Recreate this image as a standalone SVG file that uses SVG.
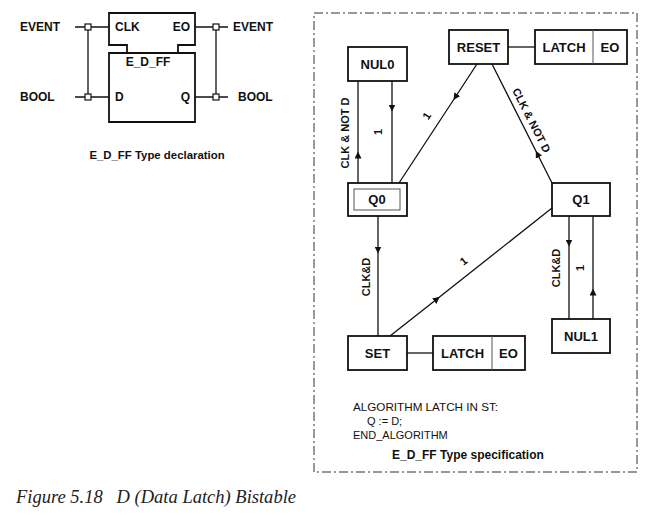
<svg xmlns="http://www.w3.org/2000/svg" width="655" height="515" viewBox="0 0 655 515">
<style>
.b{font-family:"Liberation Sans",Arial,sans-serif;font-weight:bold;fill:#111}
.t11{font-size:11px}
.t12{font-size:12px}
.t13{font-size:13px}
.r{font-family:"Liberation Sans",Arial,sans-serif;font-size:11px;fill:#111}
.box{fill:#fff;stroke:#111;stroke-width:1.8}
.thin{fill:none;stroke:#555;stroke-width:1}
.ln{fill:none;stroke:#111;stroke-width:1.3}
.arr{fill:none;stroke:#111;stroke-width:1.3;marker-mid:url(#ah)}
.sq{fill:#fff;stroke:#111;stroke-width:1.2}
</style>
<defs>
<marker id="ah" viewBox="0 0 10 10" refX="5" refY="5" markerWidth="7" markerHeight="7" markerUnits="userSpaceOnUse" orient="auto">
<path d="M0,0 L10,5 L0,10 Z" fill="#111"/>
</marker>
</defs>
<rect width="655" height="515" fill="#fff"/>

<!-- Type declaration -->
<g id="fb_decl">
<path class="box" d="M109,13 H195 V45 H178 V53 H195 V122 H109 V53 H127 V45 H109 Z"/>
<line class="ln" x1="127" y1="53" x2="178" y2="53" style="stroke-width:1.8"/>
<text class="b t12" x="115" y="31">CLK</text>
<text class="b t12" x="190" y="31" text-anchor="end">EO</text>
<text class="b t12" x="148" y="66" text-anchor="middle">E_D_FF</text>
<text class="b t12" x="115" y="101">D</text>
<text class="b t12" x="190" y="101" text-anchor="end">Q</text>
</g>
<g id="decl_io">
<line class="ln" x1="75" y1="27" x2="109" y2="27"/>
<line class="ln" x1="75" y1="97" x2="109" y2="97"/>
<line class="ln" x1="88" y1="27" x2="88" y2="97"/>
<line class="ln" x1="195" y1="27" x2="228" y2="27"/>
<line class="ln" x1="195" y1="97" x2="228" y2="97"/>
<line class="ln" x1="216" y1="27" x2="216" y2="97"/>
<rect class="sq" x="85" y="24" width="6" height="6"/>
<rect class="sq" x="85" y="94" width="6" height="6"/>
<rect class="sq" x="213" y="24" width="6" height="6"/>
<rect class="sq" x="213" y="94" width="6" height="6"/>
<text class="b t12" x="20" y="31">EVENT</text>
<text class="b t12" x="20" y="101">BOOL</text>
<text class="b t12" x="233" y="31">EVENT</text>
<text class="b t12" x="238" y="101">BOOL</text>
<text class="b" font-size="11.4" x="157" y="159" text-anchor="middle">E_D_FF Type declaration</text>
</g>

<!-- Type specification frame -->
<rect x="314" y="13" width="323" height="459" fill="none" stroke="#333" stroke-width="1" stroke-dasharray="9,3,2,3"/>

<!-- connectors -->
<g id="connectors">
<path class="arr" d="M392,81 L392,108 L392,183"/>
<path class="arr" d="M358,183 L358,155 L358,81"/>
<path class="arr" d="M477,64 L455.4,97 L399,183"/>
<path class="arr" d="M552,183 L537.4,154 L492,64"/>
<path class="arr" d="M378,216 L378,250 L378,336"/>
<path class="arr" d="M390,336 L437,299 L552,208"/>
<path class="arr" d="M569,216 L569,243 L569,319"/>
<path class="arr" d="M593,319 L593,292 L593,216"/>
<line class="ln" x1="508" y1="47" x2="535" y2="47"/>
<line class="ln" x1="407" y1="353" x2="433" y2="353"/>
<text class="b t11" transform="translate(349,133) rotate(-90)" text-anchor="middle">CLK &amp; NOT D</text>
<text class="b t11" transform="translate(382,132) rotate(-90)" text-anchor="middle">1</text>
<text class="b t11" transform="translate(430,118) rotate(-57)" text-anchor="middle">1</text>
<text class="b t11" transform="translate(528,122) rotate(63)" text-anchor="middle">CLK &amp; NOT D</text>
<text class="b t11" transform="translate(466,264) rotate(-38)" text-anchor="middle">1</text>
<text class="b t11" transform="translate(370,277) rotate(-90)" text-anchor="middle">CLK&amp;D</text>
<text class="b t11" transform="translate(560,268) rotate(-90)" text-anchor="middle">CLK&amp;D</text>
<text class="b t11" transform="translate(584,268) rotate(-90)" text-anchor="middle">1</text>
</g>

<!-- states -->
<g id="RESET">
<rect class="box" x="449" y="30" width="59" height="34"/>
<text class="b t13" x="478.5" y="51.5" text-anchor="middle">RESET</text>
</g>
<g id="RESET_action">
<rect class="box" x="535" y="30" width="92" height="34"/>
<line class="thin" x1="593" y1="30" x2="593" y2="64"/>
<text class="b t13" x="564" y="51.5" text-anchor="middle">LATCH</text>
<text class="b t13" x="610" y="51.5" text-anchor="middle">EO</text>
</g>
<g id="NUL0">
<rect class="box" x="348" y="47" width="59" height="34"/>
<text class="b t13" x="377.5" y="68.5" text-anchor="middle">NUL0</text>
</g>
<g id="Q0">
<rect class="box" x="348" y="183" width="59" height="33"/>
<rect class="thin" x="354" y="189" width="46" height="21"/>
<text class="b t13" x="377" y="204" text-anchor="middle">Q0</text>
</g>
<g id="Q1">
<rect class="box" x="552" y="183" width="58" height="33"/>
<text class="b t13" x="581" y="204" text-anchor="middle">Q1</text>
</g>
<g id="SET">
<rect class="box" x="348" y="336" width="59" height="34"/>
<text class="b t13" x="377.5" y="357.5" text-anchor="middle">SET</text>
</g>
<g id="SET_action">
<rect class="box" x="433" y="336" width="92" height="34"/>
<line class="thin" x1="492" y1="336" x2="492" y2="370"/>
<text class="b t13" x="462.5" y="357.5" text-anchor="middle">LATCH</text>
<text class="b t13" x="508.5" y="357.5" text-anchor="middle">EO</text>
</g>
<g id="NUL1">
<rect class="box" x="552" y="319" width="58" height="34"/>
<text class="b t13" x="581" y="340.5" text-anchor="middle">NUL1</text>
</g>

<g id="algorithm">
<text class="r" x="353" y="411" textLength="145" lengthAdjust="spacingAndGlyphs">ALGORITHM LATCH IN ST:</text>
<text class="r" x="367" y="425">Q := D;</text>
<text class="r" x="353" y="439">END_ALGORITHM</text>
<text class="b t12" x="392" y="459">E_D_FF Type specification</text>
</g>

<text x="16" y="503" font-family="'Liberation Serif','Times New Roman',serif" font-style="italic" font-size="18" fill="#222" xml:space="preserve" textLength="280" lengthAdjust="spacingAndGlyphs">Figure 5.18   D (Data Latch) Bistable</text>
</svg>
